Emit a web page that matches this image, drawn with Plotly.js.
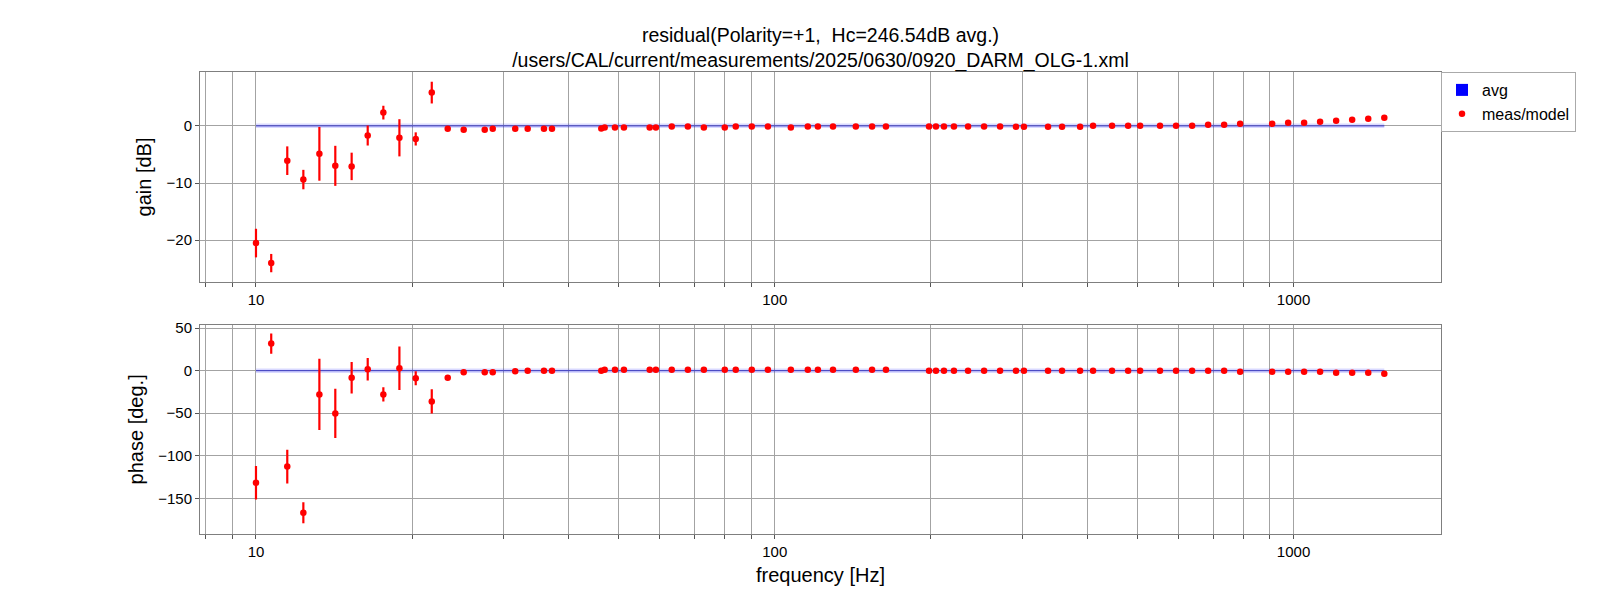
<!DOCTYPE html>
<html>
<head>
<meta charset="utf-8">
<script src="https://cdn.plot.ly/plotly-3.0.1.min.js"></script>
<style>html,body{margin:0;padding:0;background:#fff;}#chart{width:1600px;height:600px;}</style>
</head>
<body>
<div id="chart"></div>
<script>
// ---- data ----
const freq = [
  10.0, 10.70, 11.49, 12.34, 13.25, 14.22, 15.29, 16.42, 17.60, 18.90,
  20.32, 21.82, 23.42, 25.14, 27.6, 28.6, 31.6, 33.4, 35.9, 37.2,
  46.3, 47.0, 49.2, 51.2, 57.4, 59.0, 63.3, 68.0, 73.0, 80.1,
  84.1, 90.3, 97.0, 107.4, 115.8, 121.1, 129.5, 143.3, 154.0, 163.8,
  198.3, 204.5, 211.9, 221.5, 235.8, 253.2, 271.8, 291.7, 302.2,
  336.3, 357.9, 387.7, 410.7, 446.8, 479.8, 506.1, 552.8, 593.6, 637.5,
  684.4, 734.8, 788.9, 909.3, 976.3, 1048, 1125, 1208, 1297, 1393, 1496
];
const gain = [
  -20.5, -24.0, -6.1, -9.4, -4.9, -7.0, -7.1, -1.7, 2.3, -2.1,
  -2.3, 5.8, -0.53, -0.70, -0.70, -0.53, -0.53, -0.53, -0.53, -0.53,
  -0.47, -0.30, -0.30, -0.30, -0.30, -0.30, -0.12, -0.12, -0.30, -0.30,
  -0.12, -0.12, -0.12, -0.30, -0.12, -0.12, -0.12, -0.12, -0.12, -0.12,
  -0.12, -0.12, -0.12, -0.12, -0.12, -0.12, -0.12, -0.15, -0.15,
  -0.18, -0.18, -0.18, 0.0, 0.0, 0.0, 0.0, 0.0, 0.0, 0.0,
  0.18, 0.18, 0.35, 0.35, 0.53, 0.53, 0.70, 0.88, 1.05, 1.23, 1.40
];
const gainErr = [
  2.5, 1.6, 2.5, 1.7, 4.7, 3.5, 2.4, 1.75, 1.2, 3.25,
  1.15, 1.9, 0.3, 0.25, 0.2, 0.2, 0.15, 0.15, 0.15, 0.15,
  0.1, 0.1, 0.1, 0.1, 0.1, 0.1, 0.1, 0.1, 0.1, 0.1,
  0.1, 0.1, 0.1, 0.1, 0.1, 0.1, 0.1, 0.1, 0.1, 0.1,
  0.1, 0.1, 0.1, 0.1, 0.1, 0.1, 0.1, 0.1, 0.1,
  0.1, 0.1, 0.1, 0.1, 0.1, 0.1, 0.1, 0.1, 0.1, 0.1,
  0.1, 0.1, 0.1, 0.1, 0.1, 0.1, 0.1, 0.1, 0.1, 0.1, 0.1
];
const phase = [
  -131.7, 31.8, -112.8, -167.0, -27.9, -50.3, -8.3, 1.6, -27.9, 2.75,
  -9.0, -36.2, -8.3, -2.0, -2.0, -2.0, -0.8, 0.0, 0.0, 0.0,
  0.0, 1.2, 1.2, 1.2, 1.2, 1.2, 1.2, 1.2, 1.2, 1.2,
  1.2, 1.2, 1.2, 1.2, 1.2, 1.2, 1.2, 1.2, 1.2, 1.2,
  0.0, 0.0, 0.0, 0.0, 0.0, 0.0, 0.0, 0.0, 0.0,
  0.0, 0.0, 0.0, 0.0, 0.0, 0.0, 0.0, 0.0, 0.0, 0.0,
  0.0, 0.0, -1.2, -1.2, -1.2, -1.2, -1.2, -2.4, -2.4, -2.4, -3.5
];
const phaseErr = [
  19.7, 12.0, 19.8, 12.4, 42.0, 29.0, 18.5, 13.2, 8.5, 25.5,
  8.3, 14.3, 1.5, 1.0, 1.0, 1.0, 0.8, 0.8, 0.8, 0.8,
  0.5, 0.5, 0.5, 0.5, 0.5, 0.5, 0.5, 0.5, 0.5, 0.5,
  0.5, 0.5, 0.5, 0.5, 0.5, 0.5, 0.5, 0.5, 0.5, 0.5,
  0.5, 0.5, 0.5, 0.5, 0.5, 0.5, 0.5, 0.5, 0.5,
  0.5, 0.5, 0.5, 0.5, 0.5, 0.5, 0.5, 0.5, 0.5, 0.5,
  0.5, 0.5, 0.5, 0.5, 0.5, 0.5, 0.5, 0.5, 0.5, 0.5, 0.5
];
const avgFreq = [10.0, 1496];
const avgGain = [0, 0];
const avgPhase = [0, 0];

const xTickVals = [8, 9, 10, 20, 30, 40, 50, 60, 70, 80, 90, 100, 200, 300, 400, 500, 600, 700, 800, 900, 1000];
const xTickText = ['', '', '10', '', '', '', '', '', '', '', '', '100', '', '', '', '', '', '', '', '', '1000'];
const gainTicks = [-20, -10, 0];
const phaseTicks = [-150, -100, -50, 0, 50];

const FONT = 'Liberation Sans, Arial, Helvetica, sans-serif';
const GRID = '#a3a3a3';
const AXLINE = '#7f7f7f';

function xaxis(anchor) {
  return {
    type: 'log', range: [Math.log10(7.8), Math.log10(1924)], anchor: anchor,
    tickmode: 'array', tickvals: xTickVals, ticktext: xTickText,
    ticks: 'outside', ticklen: 4, tickcolor: '#555', tickwidth: 1,
    showgrid: true, gridcolor: GRID, gridwidth: 1,
    showline: true, linecolor: AXLINE, linewidth: 1, mirror: true,
    zeroline: false, tickfont: {size: 15, color: '#000', family: FONT}
  };
}
function yaxis(anchor, dom, rng, ticks, title) {
  return {
    domain: dom, range: rng, anchor: anchor,
    tickmode: 'array', tickvals: ticks,
    ticks: 'outside', ticklen: 4, tickcolor: '#555',
    showgrid: true, gridcolor: GRID, gridwidth: 1,
    showline: true, linecolor: AXLINE, linewidth: 1, mirror: true,
    zeroline: false, tickfont: {size: 15, color: '#000', family: FONT},
    title: {text: title, font: {size: 20, color: '#000', family: FONT}, standoff: 9}
  };
}

const meas = (yv, ev, xa, ya, show) => ({
  x: freq, y: yv, xaxis: xa, yaxis: ya, type: 'scatter', mode: 'markers',
  name: 'meas/model', showlegend: show, legendgroup: 'meas',
  marker: {color: '#ff0000', size: 6.5},
  error_y: {type: 'data', array: ev, visible: true, color: '#ff0000', thickness: 2.2, width: 0}
});
const avgBand = (yv, xa, ya) => ({
  x: avgFreq, y: yv, xaxis: xa, yaxis: ya, type: 'scatter', mode: 'lines',
  showlegend: false, hoverinfo: 'skip',
  line: {color: 'rgba(0,0,255,0.15)', width: 4.5}
});
const avgLine = (yv, xa, ya) => ({
  x: avgFreq, y: yv, xaxis: xa, yaxis: ya, type: 'scatter', mode: 'lines',
  showlegend: false, legendgroup: 'avg',
  line: {color: 'rgba(50,50,205,0.7)', width: 1.3}
});
// zero-height bars: only their legend swatch is visible (blue rectangle like the reference)
const avgBars = {
  x: avgFreq, y: avgGain, type: 'bar', name: 'avg', xaxis: 'x', yaxis: 'y',
  marker: {color: '#0000ff', line: {width: 0}}, legendgroup: 'avg', showlegend: true,
  width: [0.0001, 0.0001], hoverinfo: 'skip'
};

const data = [
  avgBars,
  avgBand(avgGain, 'x', 'y'), avgLine(avgGain, 'x', 'y'),
  avgBand(avgPhase, 'x2', 'y2'), avgLine(avgPhase, 'x2', 'y2'),
  meas(gain, gainErr, 'x', 'y', true),
  meas(phase, phaseErr, 'x2', 'y2', false)
];

const layout = {
  width: 1600, height: 600,
  paper_bgcolor: '#fff', plot_bgcolor: '#fff',
  font: {family: FONT, color: '#000', size: 15},
  margin: {l: 200, r: 159, t: 72, b: 66},
  title: {
    text: 'residual(Polarity=+1,\u00a0 Hc=246.54dB avg.)<br>/users/CAL/current/measurements/2025/0630/0920_DARM_OLG-1.xml',
    font: {size: 19.5, color: '#000', family: FONT},
    x: 0.5, xref: 'paper', xanchor: 'center', y: 0.93, yref: 'container', yanchor: 'top'
  },
  showlegend: true,
  legend: {
    x: 1, xanchor: 'left', y: 1, yanchor: 'top', xref: 'paper', yref: 'paper',
    bordercolor: '#aaa', borderwidth: 1, bgcolor: '#fff',
    font: {size: 16, color: '#000', family: FONT}, traceorder: 'normal'
  },
  xaxis: xaxis('y'),
  yaxis: yaxis('x', [0.5455, 1], [-27.3, 9.4], gainTicks, 'gain [dB]'),
  xaxis2: Object.assign(xaxis('y2'), {title: {text: 'frequency [Hz]', font: {size: 20, color: '#000', family: FONT}, standoff: 8}}),
  yaxis2: yaxis('x2', [0, 0.453], [-192, 54], phaseTicks, 'phase [deg.]'),
  bargap: 0
};

Plotly.newPlot('chart', data, layout, {displayModeBar: false, staticPlot: true});
</script>
</body>
</html>
